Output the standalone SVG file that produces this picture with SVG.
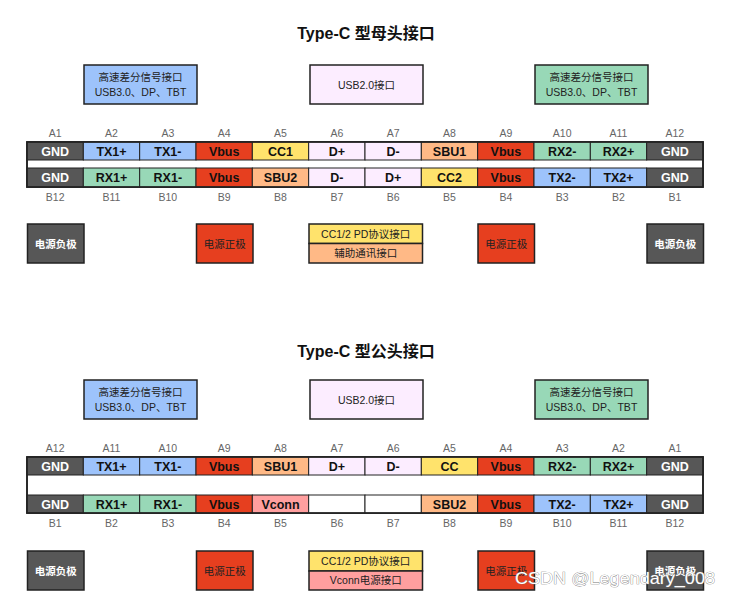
<svg xmlns="http://www.w3.org/2000/svg" width="729" height="599" viewBox="0 0 729 599">
<style>
.bg{fill:#ffffff}
.title{font-family:"Liberation Sans","Noto Sans CJK SC",sans-serif;font-weight:bold;font-size:16px;fill:#111;text-anchor:middle}
.pin{font-family:"Liberation Sans",sans-serif;font-size:10.5px;fill:#666;text-anchor:middle}
.cell{stroke:#222;stroke-width:1}
.ct{font-family:"Liberation Sans",sans-serif;font-weight:bold;font-size:12.5px;fill:#111;text-anchor:middle}
.ctw{font-family:"Liberation Sans",sans-serif;font-weight:bold;font-size:12.5px;fill:#fff;text-anchor:middle}
.outer{fill:#fff;stroke:#222;stroke-width:1.6}
.box{stroke:#222;stroke-width:1.5}
.bt{font-family:"Liberation Sans","Noto Sans CJK SC",sans-serif;font-size:10.5px;fill:#222;text-anchor:middle}
.btw{font-family:"Liberation Sans","Noto Sans CJK SC",sans-serif;font-size:10.5px;font-weight:bold;fill:#fff;text-anchor:middle}
.gnd{fill:#575757}.blue{fill:#9dc3fb}.green{fill:#98d8b7}.red{fill:#e63f1f}.yellow{fill:#ffe36c}.orange{fill:#ffb986}.pink{fill:#fcedff}.vconn{fill:#ff9f9f}.white{fill:#ffffff}
.wm{font-family:"Liberation Sans",sans-serif;font-size:17px;fill:#fff;stroke:#777;stroke-width:0.7;paint-order:stroke}
</style>
<rect class="bg" x="0" y="0" width="729" height="599"/>

<!-- ===== Female (receptacle) ===== -->
<g id="title-female"><text class="title" x="366" y="39">Type-C 型母头接口</text></g>

<g id="f-box-hs-left"><rect class="box blue" x="84" y="65" width="113" height="39"/>
<text class="bt" x="140.5" y="81">高速差分信号接口</text><text class="bt" x="140.5" y="96">USB3.0、DP、TBT</text></g>
<g id="f-box-usb2"><rect class="box pink" x="310" y="65" width="113" height="39"/>
<text class="bt" x="366.5" y="89">USB2.0接口</text></g>
<g id="f-box-hs-right"><rect class="box green" x="535" y="65" width="113" height="39"/>
<text class="bt" x="591.5" y="81">高速差分信号接口</text><text class="bt" x="591.5" y="96">USB3.0、DP、TBT</text></g>

<g id="f-pins-a-labels">
<text class="pin" x="55.17" y="137">A1</text><text class="pin" x="111.5" y="137">A2</text><text class="pin" x="167.83" y="137">A3</text><text class="pin" x="224.17" y="137">A4</text><text class="pin" x="280.5" y="137">A5</text><text class="pin" x="336.83" y="137">A6</text><text class="pin" x="393.17" y="137">A7</text><text class="pin" x="449.5" y="137">A8</text><text class="pin" x="505.83" y="137">A9</text><text class="pin" x="562.17" y="137">A10</text><text class="pin" x="618.5" y="137">A11</text><text class="pin" x="674.83" y="137">A12</text>
</g>

<g id="f-connector">
<rect class="outer" x="27" y="142" width="676" height="45"/>
<g id="f-row-a">
<rect class="cell gnd" x="27" y="142" width="56.33" height="18"/><text class="ctw" x="55.17" y="155.5">GND</text>
<rect class="cell blue" x="83.33" y="142" width="56.33" height="18"/><text class="ct" x="111.5" y="155.5">TX1+</text>
<rect class="cell blue" x="139.67" y="142" width="56.33" height="18"/><text class="ct" x="167.83" y="155.5">TX1-</text>
<rect class="cell red" x="196" y="142" width="56.33" height="18"/><text class="ct" x="224.17" y="155.5">Vbus</text>
<rect class="cell yellow" x="252.33" y="142" width="56.33" height="18"/><text class="ct" x="280.5" y="155.5">CC1</text>
<rect class="cell pink" x="308.67" y="142" width="56.33" height="18"/><text class="ct" x="336.83" y="155.5">D+</text>
<rect class="cell pink" x="365" y="142" width="56.33" height="18"/><text class="ct" x="393.17" y="155.5">D-</text>
<rect class="cell orange" x="421.33" y="142" width="56.33" height="18"/><text class="ct" x="449.5" y="155.5">SBU1</text>
<rect class="cell red" x="477.67" y="142" width="56.33" height="18"/><text class="ct" x="505.83" y="155.5">Vbus</text>
<rect class="cell green" x="534" y="142" width="56.33" height="18"/><text class="ct" x="562.17" y="155.5">RX2-</text>
<rect class="cell green" x="590.33" y="142" width="56.33" height="18"/><text class="ct" x="618.5" y="155.5">RX2+</text>
<rect class="cell gnd" x="646.67" y="142" width="56.33" height="18"/><text class="ctw" x="674.83" y="155.5">GND</text>
</g>
<g id="f-row-b">
<rect class="cell gnd" x="27" y="168" width="56.33" height="19"/><text class="ctw" x="55.17" y="182">GND</text>
<rect class="cell green" x="83.33" y="168" width="56.33" height="19"/><text class="ct" x="111.5" y="182">RX1+</text>
<rect class="cell green" x="139.67" y="168" width="56.33" height="19"/><text class="ct" x="167.83" y="182">RX1-</text>
<rect class="cell red" x="196" y="168" width="56.33" height="19"/><text class="ct" x="224.17" y="182">Vbus</text>
<rect class="cell orange" x="252.33" y="168" width="56.33" height="19"/><text class="ct" x="280.5" y="182">SBU2</text>
<rect class="cell pink" x="308.67" y="168" width="56.33" height="19"/><text class="ct" x="336.83" y="182">D-</text>
<rect class="cell pink" x="365" y="168" width="56.33" height="19"/><text class="ct" x="393.17" y="182">D+</text>
<rect class="cell yellow" x="421.33" y="168" width="56.33" height="19"/><text class="ct" x="449.5" y="182">CC2</text>
<rect class="cell red" x="477.67" y="168" width="56.33" height="19"/><text class="ct" x="505.83" y="182">Vbus</text>
<rect class="cell blue" x="534" y="168" width="56.33" height="19"/><text class="ct" x="562.17" y="182">TX2-</text>
<rect class="cell blue" x="590.33" y="168" width="56.33" height="19"/><text class="ct" x="618.5" y="182">TX2+</text>
<rect class="cell gnd" x="646.67" y="168" width="56.33" height="19"/><text class="ctw" x="674.83" y="182">GND</text>
</g>
<rect x="27" y="142" width="676" height="45" fill="none" stroke="#222" stroke-width="1.6"/>
</g>

<g id="f-pins-b-labels">
<text class="pin" x="55.17" y="201">B12</text><text class="pin" x="111.5" y="201">B11</text><text class="pin" x="167.83" y="201">B10</text><text class="pin" x="224.17" y="201">B9</text><text class="pin" x="280.5" y="201">B8</text><text class="pin" x="336.83" y="201">B7</text><text class="pin" x="393.17" y="201">B6</text><text class="pin" x="449.5" y="201">B5</text><text class="pin" x="505.83" y="201">B4</text><text class="pin" x="562.17" y="201">B3</text><text class="pin" x="618.5" y="201">B2</text><text class="pin" x="674.83" y="201">B1</text>
</g>

<g id="f-neg-left"><rect class="box gnd" x="27.5" y="224" width="56.5" height="39"/><text class="btw" x="55.75" y="247.5">电源负极</text></g>
<g id="f-pos-left"><rect class="box red" x="196.5" y="224" width="56.5" height="39"/><text class="bt" x="224.75" y="247.5">电源正极</text></g>
<g id="f-cc-box"><rect class="box yellow" x="309" y="224" width="113.5" height="19.5"/><text class="bt" x="365.75" y="237.5">CC1/2 PD协议接口</text>
<rect class="box orange" x="309" y="243.5" width="113.5" height="19.5"/><text class="bt" x="365.75" y="257">辅助通讯接口</text></g>
<g id="f-pos-right"><rect class="box red" x="478" y="224" width="56.5" height="39"/><text class="bt" x="506.25" y="247.5">电源正极</text></g>
<g id="f-neg-right"><rect class="box gnd" x="647" y="224" width="56.5" height="39"/><text class="btw" x="675.25" y="247.5">电源负极</text></g>

<!-- ===== Male (plug) ===== -->
<g id="title-male"><text class="title" x="366" y="357">Type-C 型公头接口</text></g>

<g id="m-box-hs-left"><rect class="box blue" x="84" y="380" width="113" height="39"/>
<text class="bt" x="140.5" y="396">高速差分信号接口</text><text class="bt" x="140.5" y="411">USB3.0、DP、TBT</text></g>
<g id="m-box-usb2"><rect class="box pink" x="310" y="380" width="113" height="39"/>
<text class="bt" x="366.5" y="404">USB2.0接口</text></g>
<g id="m-box-hs-right"><rect class="box green" x="535" y="380" width="113" height="39"/>
<text class="bt" x="591.5" y="396">高速差分信号接口</text><text class="bt" x="591.5" y="411">USB3.0、DP、TBT</text></g>

<g id="m-pins-a-labels">
<text class="pin" x="55.17" y="452">A12</text><text class="pin" x="111.5" y="452">A11</text><text class="pin" x="167.83" y="452">A10</text><text class="pin" x="224.17" y="452">A9</text><text class="pin" x="280.5" y="452">A8</text><text class="pin" x="336.83" y="452">A7</text><text class="pin" x="393.17" y="452">A6</text><text class="pin" x="449.5" y="452">A5</text><text class="pin" x="505.83" y="452">A4</text><text class="pin" x="562.17" y="452">A3</text><text class="pin" x="618.5" y="452">A2</text><text class="pin" x="674.83" y="452">A1</text>
</g>

<g id="m-connector">
<rect class="outer" x="27" y="457" width="676" height="56"/>
<g id="m-row-a">
<rect class="cell gnd" x="27" y="457" width="56.33" height="18"/><text class="ctw" x="55.17" y="470.5">GND</text>
<rect class="cell blue" x="83.33" y="457" width="56.33" height="18"/><text class="ct" x="111.5" y="470.5">TX1+</text>
<rect class="cell blue" x="139.67" y="457" width="56.33" height="18"/><text class="ct" x="167.83" y="470.5">TX1-</text>
<rect class="cell red" x="196" y="457" width="56.33" height="18"/><text class="ct" x="224.17" y="470.5">Vbus</text>
<rect class="cell orange" x="252.33" y="457" width="56.33" height="18"/><text class="ct" x="280.5" y="470.5">SBU1</text>
<rect class="cell pink" x="308.67" y="457" width="56.33" height="18"/><text class="ct" x="336.83" y="470.5">D+</text>
<rect class="cell pink" x="365" y="457" width="56.33" height="18"/><text class="ct" x="393.17" y="470.5">D-</text>
<rect class="cell yellow" x="421.33" y="457" width="56.33" height="18"/><text class="ct" x="449.5" y="470.5">CC</text>
<rect class="cell red" x="477.67" y="457" width="56.33" height="18"/><text class="ct" x="505.83" y="470.5">Vbus</text>
<rect class="cell green" x="534" y="457" width="56.33" height="18"/><text class="ct" x="562.17" y="470.5">RX2-</text>
<rect class="cell green" x="590.33" y="457" width="56.33" height="18"/><text class="ct" x="618.5" y="470.5">RX2+</text>
<rect class="cell gnd" x="646.67" y="457" width="56.33" height="18"/><text class="ctw" x="674.83" y="470.5">GND</text>
</g>
<g id="m-row-b">
<rect class="cell gnd" x="27" y="495" width="56.33" height="18"/><text class="ctw" x="55.17" y="508.5">GND</text>
<rect class="cell green" x="83.33" y="495" width="56.33" height="18"/><text class="ct" x="111.5" y="508.5">RX1+</text>
<rect class="cell green" x="139.67" y="495" width="56.33" height="18"/><text class="ct" x="167.83" y="508.5">RX1-</text>
<rect class="cell red" x="196" y="495" width="56.33" height="18"/><text class="ct" x="224.17" y="508.5">Vbus</text>
<rect class="cell vconn" x="252.33" y="495" width="56.33" height="18"/><text class="ct" x="280.5" y="508.5">Vconn</text>
<rect class="cell white" x="308.67" y="495" width="56.33" height="18"/>
<rect class="cell white" x="365" y="495" width="56.33" height="18"/>
<rect class="cell orange" x="421.33" y="495" width="56.33" height="18"/><text class="ct" x="449.5" y="508.5">SBU2</text>
<rect class="cell red" x="477.67" y="495" width="56.33" height="18"/><text class="ct" x="505.83" y="508.5">Vbus</text>
<rect class="cell blue" x="534" y="495" width="56.33" height="18"/><text class="ct" x="562.17" y="508.5">TX2-</text>
<rect class="cell blue" x="590.33" y="495" width="56.33" height="18"/><text class="ct" x="618.5" y="508.5">TX2+</text>
<rect class="cell gnd" x="646.67" y="495" width="56.33" height="18"/><text class="ctw" x="674.83" y="508.5">GND</text>
</g>
<rect x="27" y="457" width="676" height="56" fill="none" stroke="#222" stroke-width="1.6"/>
</g>

<g id="m-pins-b-labels">
<text class="pin" x="55.17" y="527">B1</text><text class="pin" x="111.5" y="527">B2</text><text class="pin" x="167.83" y="527">B3</text><text class="pin" x="224.17" y="527">B4</text><text class="pin" x="280.5" y="527">B5</text><text class="pin" x="336.83" y="527">B6</text><text class="pin" x="393.17" y="527">B7</text><text class="pin" x="449.5" y="527">B8</text><text class="pin" x="505.83" y="527">B9</text><text class="pin" x="562.17" y="527">B10</text><text class="pin" x="618.5" y="527">B11</text><text class="pin" x="674.83" y="527">B12</text>
</g>

<g id="m-neg-left"><rect class="box gnd" x="27.5" y="551" width="56.5" height="39"/><text class="btw" x="55.75" y="574.5">电源负极</text></g>
<g id="m-pos-left"><rect class="box red" x="196.5" y="551" width="56.5" height="39"/><text class="bt" x="224.75" y="574.5">电源正极</text></g>
<g id="m-cc-box"><rect class="box yellow" x="309" y="551" width="113.5" height="20"/><text class="bt" x="365.75" y="564.5">CC1/2 PD协议接口</text>
<rect class="box vconn" x="309" y="571" width="113.5" height="19"/><text class="bt" x="365.75" y="584">Vconn电源接口</text></g>
<g id="m-pos-right"><rect class="box red" x="478" y="551" width="56.5" height="39"/><text class="bt" x="506.25" y="574.5">电源正极</text></g>
<g id="m-neg-right"><rect class="box gnd" x="647" y="551" width="56.5" height="39"/><text class="btw" x="675.25" y="574.5">电源负极</text></g>

<g id="connectors"/>

<g id="watermark"><text class="wm" x="515" y="584" textLength="200" lengthAdjust="spacingAndGlyphs">CSDN @Legendary_008</text></g>
</svg>
